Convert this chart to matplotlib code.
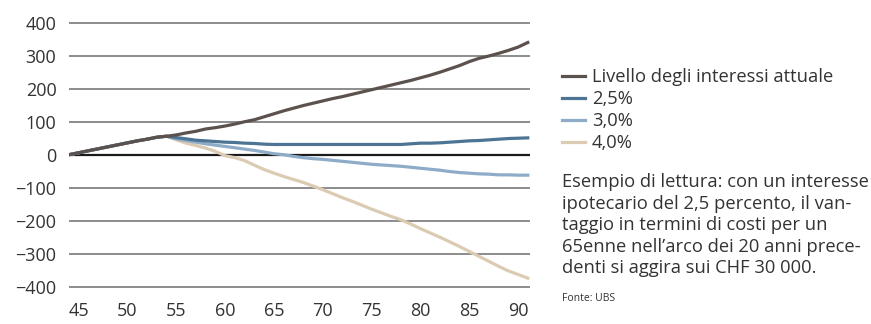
import matplotlib.pyplot as plt

# età
eta = list(range(44, 92))

# tratto comune 44-53
comune = [0, 6, 12, 18, 24, 30, 36, 42, 47, 53]

attuale = comune + [56, 60, 66, 71, 78, 82, 87, 93, 100, 106, 115, 124, 133, 141, 149, 156,
                    163, 170, 176, 183, 190, 197, 204, 211, 218, 225, 233, 241, 250, 260,
                    270, 282, 292, 299, 307, 316, 326, 340]
tasso_25 = comune + [56, 52, 48, 44, 42, 40, 38, 37, 35, 34, 32, 31, 31, 31, 31, 31,
                     31, 31, 31, 31, 31, 31, 31, 31, 31, 33, 35, 35, 36, 38,
                     40, 42, 43, 45, 47, 49, 50, 51]
tasso_30 = comune + [56, 48, 43, 38, 33, 29, 25, 21, 17, 13, 8, 3, 0, -5, -9, -12,
                     -14, -17, -20, -23, -26, -29, -31, -33, -35, -38, -41, -44, -47, -51,
                     -54, -56, -58, -59, -61, -61, -62, -62]
tasso_40 = comune + [56, 45, 35, 28, 20, 10, -3, -9, -18, -32, -45, -56, -66, -75, -84, -95,
                     -106, -118, -130, -141, -153, -165, -176, -187, -197, -210, -224, -237, -250, -264,
                     -278, -293, -308, -323, -338, -352, -363, -374]

etichette = ['Livello degli interessi attuale', '2,5%', '3,0%', '4,0%']
colori = ['#5c524d', '#4d7494', '#8eacc8', '#dccbb3']

plt.rcParams['font.family'] = ['Open Sans', 'DejaVu Sans']

fig = plt.figure(figsize=(8.71, 3.24), dpi=100)
ax = fig.add_axes([0.0792, 0.110, 0.529, 0.825])

for y in range(-400, 401, 100):
    if y != 0:
        ax.axhline(y, color='#6e6e6e', lw=1.1, zorder=1)
ax.axhline(0, color='#1a1a1a', lw=1.6, zorder=2)

serie = [attuale, tasso_25, tasso_30, tasso_40]
for valori, col, lab in zip(serie[::-1], colori[::-1], etichette[::-1]):
    ax.plot(eta, valori, color=col, lw=2.3, label=lab, zorder=3)

ax.set_xlim(44, 91.2)
ax.set_ylim(-405, 405)
ax.set_xticks(range(45, 91, 5))
ax.set_yticks(range(-400, 401, 100))
ax.set_yticklabels([str(v).replace('-', '\u2212') for v in range(-400, 401, 100)])
for s in ax.spines.values():
    s.set_visible(False)
ax.tick_params(axis='both', length=0, labelsize=13, colors='#333333')
ax.tick_params(axis='y', pad=9)
ax.tick_params(axis='x', pad=10)

handles, labels = ax.get_legend_handles_labels()
fig.legend(handles[::-1], labels[::-1], loc='upper left', bbox_to_anchor=(0.645, 0.79),
           frameon=False, fontsize=13.2, handlelength=1.25, handletextpad=0.4,
           labelspacing=0.22, borderaxespad=0, borderpad=0, labelcolor='#333333')

testo = ("Esempio di lettura: con un interesse\n"
         "ipotecario del 2,5 percento, il van-\n"
         "taggio in termini di costi per un\n"
         "65enne nell\u2019arco dei 20 anni prece-\n"
         "denti si aggira sui CHF 30 000.")
fig.text(0.645, 0.465, testo, fontsize=13.2, color='#333333', va='top', ha='left', linespacing=1.25)
fig.text(0.645, 0.08, 'Fonte: UBS', fontsize=7.5, color='#333333', va='center', ha='left')

fig.savefig('out.png', dpi=100)
